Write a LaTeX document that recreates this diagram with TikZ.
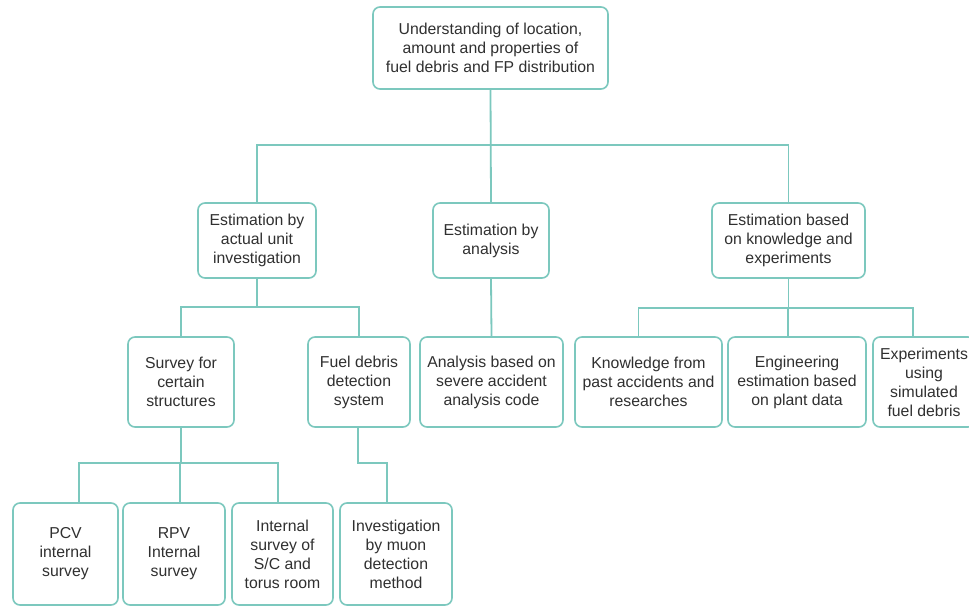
\documentclass[tikz,border=0pt]{standalone}
\usepackage{fontspec}
\setmainfont{Liberation Sans}
\definecolor{teal1}{HTML}{7CC8BE}
\definecolor{txt}{HTML}{303030}
\begin{document}
\begin{tikzpicture}[x=1pt,y=-1pt,
  box/.style={draw=teal1,line width=1.6pt,rounded corners=7pt,fill=white,align=center,
    text=txt,inner sep=0pt,font=\fontsize{15.8}{19}\selectfont},
  conn/.style={draw=teal1,line width=1.8pt}]
\useasboundingbox (0,0) rectangle (969,607);
\fill[white] (0,0) rectangle (969,607);
% nodes
\node[box,minimum width=235pt,minimum height=82pt] (top) at (490.5,48) {Understanding of location,\\amount and properties of\\fuel debris and FP distribution};
\node[box,minimum width=118pt,minimum height=75pt] (L2a) at (257,240.5) {Estimation by\\actual unit\\investigation};
\node[box,minimum width=116pt,minimum height=75pt] (L2b) at (491,240.5) {Estimation by\\analysis};
\node[box,minimum width=153pt,minimum height=75pt] (L2c) at (788.5,240.5) {Estimation based\\on knowledge and\\experiments};
\node[box,minimum width=106pt,minimum height=90pt] (S) at (181,382) {Survey for\\certain\\structures};
\node[box,minimum width=102pt,minimum height=90pt] (F) at (359,382) {Fuel debris\\detection\\system};
\node[box,minimum width=143pt,minimum height=90pt] (A) at (491.5,382) {Analysis based on\\severe accident\\analysis code};
\node[box,minimum width=147pt,minimum height=90pt] (K) at (648.5,382) {Knowledge from\\past accidents and\\researches};
\node[box,minimum width=138pt,minimum height=90pt] (E) at (797,382) {Engineering\\estimation based\\on plant data};
\node[box,minimum width=102pt,minimum height=90pt] (X) at (924,382) {Experiments\\using\\simulated\\fuel debris};
\node[box,minimum width=105pt,minimum height=102pt] (P) at (65.5,554) {PCV\\internal\\survey};
\node[box,minimum width=102pt,minimum height=102pt] (R) at (174,554) {RPV\\Internal\\survey};
\node[box,minimum width=101pt,minimum height=102pt] (I) at (282.5,554) {Internal\\survey of\\S/C and\\torus room};
\node[box,minimum width=112pt,minimum height=102pt] (M) at (396,554) {Investigation\\by muon\\detection\\method};
% connectors
\draw[conn] (top.south) -- (L2b.north);
\draw[conn] (L2a.north) -- (L2a.north |- 0,145) -- (L2c.north |- 0,145) -- (L2c.north);
\draw[conn] (L2a.south) -- (L2a.south |- 0,307);
\draw[conn] (S.north) -- (S.north |- 0,307) -- (F.north |- 0,307) -- (F.north);
\draw[conn] (L2b.south) -- (A.north);
\draw[conn] (L2c.south) -- (L2c.south |- 0,308);
\draw[conn] ([xshift=-10]K.north) -- ([xshift=-10]K.north |- 0,308) -- ([xshift=-11]X.north |- 0,308) -- ([xshift=-11]X.north);
\draw[conn] ([xshift=-9]E.north) -- ([xshift=-9]E.north |- 0,308);
\draw[conn] (S.south) -- (S.south |- 0,463);
\draw[conn] ([xshift=13.5]P.north) -- ([xshift=13.5]P.north |- 0,463) -- ([xshift=-4.5]I.north |- 0,463) -- ([xshift=-4.5]I.north);
\draw[conn] ([xshift=6]R.north) -- ([xshift=6]R.north |- 0,463);
\draw[conn] ([xshift=-1]F.south) -- ([xshift=-1]F.south |- 0,463) -- ([xshift=-9]M.north |- 0,463) -- ([xshift=-9]M.north);
\end{tikzpicture}
\end{document}
